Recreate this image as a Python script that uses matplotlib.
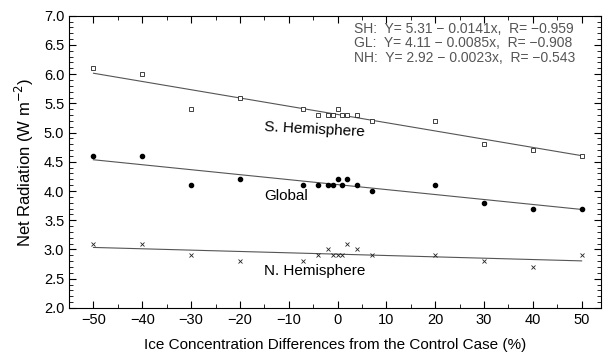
import numpy as np
import matplotlib
matplotlib.use("Agg")
import matplotlib.pyplot as plt
from matplotlib.ticker import MultipleLocator, FormatStrFormatter

plt.rcParams['font.family'] = ['Liberation Sans', 'DejaVu Sans']

# ice concentration change (%)
x = [-50, -40, -30, -20, -7, -4, -2, -1, 0, 1, 2, 4, 7, 20, 30, 40, 50]

sh = [6.1, 6.0, 5.4, 5.6, 5.4, 5.3, 5.3, 5.3, 5.4, 5.3, 5.3, 5.3, 5.2, 5.2, 4.8, 4.7, 4.6]
gl = [4.6, 4.6, 4.1, 4.2, 4.1, 4.1, 4.1, 4.1, 4.2, 4.1, 4.2, 4.1, 4.0, 4.1, 3.8, 3.7, 3.7]
nh = [3.1, 3.1, 2.9, 2.8, 2.8, 2.9, 3.0, 2.9, 2.9, 2.9, 3.1, 3.0, 2.9, 2.9, 2.8, 2.7, 2.9]

# regression coefficients (intercept, slope)
fit_sh = (5.31, -0.0141)
fit_gl = (4.11, -0.0085)
fit_nh = (2.92, -0.0023)

fig = plt.figure(figsize=(6.06, 3.56), dpi=100)
ax = fig.add_axes([0.114, 0.135, 0.878, 0.821])

xl = np.array([-50, 50])
for a, b in [fit_sh, fit_gl, fit_nh]:
    ax.plot(xl, a + b * xl, color='#555555', lw=0.8)

ax.plot(x, sh, 's', ms=3.5, mfc='white', mec='#222222', mew=0.6)
ax.plot(x, gl, 'o', ms=3, color='black')
ax.plot(x, nh, 'x', ms=3.5, color='#222222', mew=0.6)

ax.text(-15, 5.05, 'S. Hemisphere', fontsize=11, ha='left', va='center', rotation=-3)
ax.text(-15, 3.91, 'Global', fontsize=11, ha='left', va='center')
ax.text(-15, 2.64, 'N. Hemisphere', fontsize=11, ha='left', va='center')

eq = ('SH:  Y= 5.31 \u2212 0.0141x,  R= \u22120.959\n'
      'GL:  Y= 4.11 \u2212 0.0085x,  R= \u22120.908\n'
      'NH:  Y= 2.92 \u2212 0.0023x,  R= \u22120.543')
ax.text(3.3, 6.9, eq, fontsize=10, ha='left', va='top', color='#555555', linespacing=1.05)

ax.set_xlim(-55, 54)
ax.set_ylim(2.0, 7.0)
ax.xaxis.set_major_locator(MultipleLocator(10))
ax.xaxis.set_minor_locator(MultipleLocator(5))
ax.yaxis.set_major_locator(MultipleLocator(0.5))
ax.yaxis.set_minor_locator(MultipleLocator(0.1))
ax.yaxis.set_major_formatter(FormatStrFormatter('%.1f'))
ax.tick_params(which='both', direction='in', top=True, right=True, labelsize=10.5)
ax.tick_params(which='major', length=5, width=0.8)
ax.tick_params(which='minor', length=3, width=0.6)

ax.set_xlabel('Ice Concentration Differences from the Control Case (%)', fontsize=11, labelpad=8)
ax.set_ylabel('Net Radiation (W m$^{-2}$)', fontsize=12, labelpad=6)

fig.savefig('out.png', dpi=100)
